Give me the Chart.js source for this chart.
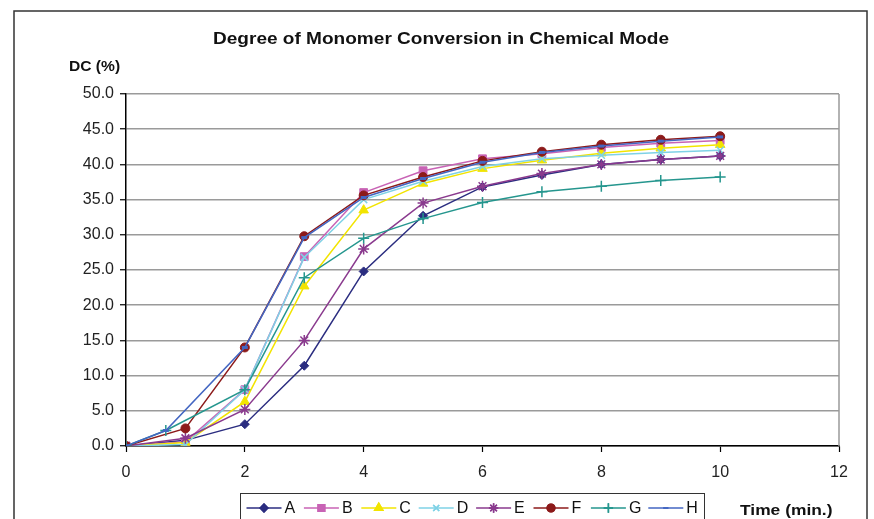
<!DOCTYPE html>
<html>
<head>
<meta charset="utf-8">
<script src="https://cdn.jsdelivr.net/npm/chart.js@4/dist/chart.umd.min.js"></script>
<style>
  html, body { margin: 0; padding: 0; background: #fff; }
  canvas { display: block; }
</style>
</head>
<body>
<canvas id="dc-chart" width="874" height="519"></canvas>
<script>
// time points (min.) - G and H have their first reading at 40 s
const timesAF = [0, 1, 2, 3, 4, 5, 6, 7, 8, 9, 10];
const timesGH = [0, 0.67, 2, 3, 4, 5, 6, 7, 8, 9, 10];

const seriesNames = ["A", "B", "C", "D", "E", "F", "G", "H"];
const dcA = [0, 0.8, 3.1, 11.4, 24.8, 32.7, 36.8, 38.5, 40.0, 40.7, 41.2];
const dcB = [0, 0.6, 8.0, 26.9, 36.0, 39.1, 40.8, 41.5, 42.4, 43.0, 43.4];
const dcC = [0, 0.5, 6.3, 22.7, 33.5, 37.3, 39.4, 40.6, 41.6, 42.3, 42.8];
const dcD = [0, 0.2, 8.0, 26.8, 35.0, 37.6, 39.7, 40.8, 41.3, 41.7, 42.0];
const dcE = [0, 1.1, 5.2, 15.0, 28.0, 34.5, 36.9, 38.7, 40.0, 40.7, 41.2];
const dcF = [0, 2.5, 14.0, 29.8, 35.6, 38.2, 40.5, 41.8, 42.8, 43.5, 44.0];
const dcG = [0, 2.2, 8.0, 23.9, 29.5, 32.3, 34.6, 36.1, 36.9, 37.7, 38.2];
const dcH = [0, 2.2, 14.0, 29.6, 35.3, 38.0, 40.3, 41.7, 42.6, 43.3, 43.9];

const chartTitle = "Degree of Monomer Conversion in Chemical Mode";
const yTitle = "DC (%)";
const xTitle = "Time (min.)";

const FONT = "'Liberation Sans', Arial, sans-serif";

// look of each series: colour, marker
const looks = [
    { color: "#2b2d80", style: "rectRot", r: 4.5, bw: 1 },
    { color: "#c863b5", style: "rect", r: 5.5, bw: 1 },
    { color: "#f2e400", style: "triangle", r: 5.5, bw: 1 },
    { color: "#7fd2e6", style: "crossRot", r: 5, bw: 1.5 },
    { color: "#8a3a8e", style: "star", r: 5.5, bw: 1.5 },
    { color: "#8c1a1a", style: "circle", r: 4.5, bw: 1 },
    { color: "#25968e", style: "cross", r: 5.5, bw: 1.5 },
    { color: "#4366c2", style: "line", r: 3, bw: 3 }
];

function toPoints(xs, ys) {
    return xs.map((x, i) => ({ x: x, y: ys[i] }));
}

const allSeries = [dcA, dcB, dcC, dcD, dcE, dcF, dcG, dcH];
const datasets = allSeries.map((ys, i) => {
    const lk = looks[i];
    const xs = i >= 6 ? timesGH : timesAF;
    return {
        label: seriesNames[i],
        data: toPoints(xs, ys),
        showLine: true,
        borderColor: lk.color,
        backgroundColor: lk.color,
        borderWidth: 1.5,
        pointStyle: lk.style,
        pointRadius: lk.r,
        pointBorderWidth: lk.bw,
        pointBackgroundColor: lk.color,
        pointBorderColor: lk.color,
        order: 8 - i
    };
});

// text stretched sideways a bit, like the printed Excel labels
function wideText(ctx, text, x, y, sx) {
    ctx.save();
    ctx.translate(x, y);
    ctx.scale(sx, 1);
    ctx.fillText(text, 0, 0);
    ctx.restore();
}

// frame, titles, plot border and the boxed legend
const decorPlugin = {
    id: "decor",
    afterDraw(chart) {
        const ctx = chart.ctx;
        const area = chart.chartArea;
        ctx.save();

        // outer frame
        ctx.strokeStyle = "#333";
        ctx.lineWidth = 1.5;
        ctx.strokeRect(14, 11, 853, 530);

        // right edge of plot area
        ctx.strokeStyle = "#9a9a9a";
        ctx.lineWidth = 1.5;
        ctx.beginPath();
        ctx.moveTo(area.right, area.top);
        ctx.lineTo(area.right, area.bottom);
        ctx.stroke();

        ctx.fillStyle = "#111";
        ctx.textBaseline = "middle";
        ctx.textAlign = "center";
        ctx.font = "bold 17px " + FONT;
        wideText(ctx, chartTitle, 441, 39, 1.12);

        ctx.textAlign = "left";
        ctx.font = "bold 15px " + FONT;
        wideText(ctx, yTitle, 69, 67, 1.04);
        wideText(ctx, xTitle, 740, 511, 1.16);

        // legend
        ctx.strokeStyle = "#333";
        ctx.lineWidth = 1;
        ctx.strokeRect(240.5, 493.5, 464, 40);
        ctx.font = "16px " + FONT;
        const ly = 508;
        seriesNames.forEach((name, i) => {
            const lk = looks[i];
            const x0 = 246.5 + i * 57.4;
            ctx.strokeStyle = lk.color;
            ctx.lineWidth = 1.5;
            ctx.beginPath();
            ctx.moveTo(x0, ly);
            ctx.lineTo(x0 + 35, ly);
            ctx.stroke();
            Chart.helpers.drawPoint(ctx, {
                pointStyle: lk.style,
                radius: lk.r * 0.85,
                rotation: 0,
                borderWidth: lk.bw
            }, x0 + 17.5, ly);
            ctx.fillStyle = lk.color;
            ctx.strokeStyle = lk.color;
            ctx.fill();
            ctx.stroke();
            ctx.fillStyle = "#111";
            ctx.fillText(name, x0 + 38, ly + 1);
        });
        ctx.restore();
    }
};

new Chart(document.getElementById("dc-chart"), {
    type: "scatter",
    data: { datasets: datasets },
    options: {
        responsive: false,
        animation: false,
        layout: { padding: { left: 0, top: 94, right: 35, bottom: 0 } },
        plugins: {
            legend: { display: false },
            title: { display: false },
            tooltip: { enabled: false }
        },
        scales: {
            x: {
                type: "linear",
                min: 0,
                max: 12,
                ticks: {
                    stepSize: 2,
                    color: "#222",
                    padding: 11,
                    font: { family: FONT, size: 16 }
                },
                grid: {
                    drawOnChartArea: false,
                    drawTicks: true,
                    tickLength: 6,
                    tickColor: "#000",
                    tickWidth: 1.2
                },
                border: { color: "#000", width: 1.5 },
                afterFit(scale) { scale.height = 73; }
            },
            y: {
                type: "linear",
                min: 0,
                max: 50,
                ticks: {
                    stepSize: 5,
                    color: "#222",
                    padding: 6,
                    font: { family: FONT, size: 16 },
                    callback: (v) => v.toFixed(1)
                },
                grid: {
                    color: "#9a9a9a",
                    lineWidth: 1.5,
                    drawTicks: true,
                    tickLength: 6,
                    tickColor: "#000",
                    tickWidth: 1.2
                },
                border: { color: "#000", width: 1.5 },
                afterFit(scale) { scale.width = 126; }
            }
        }
    },
    plugins: [decorPlugin]
});
</script>
</body>
</html>
